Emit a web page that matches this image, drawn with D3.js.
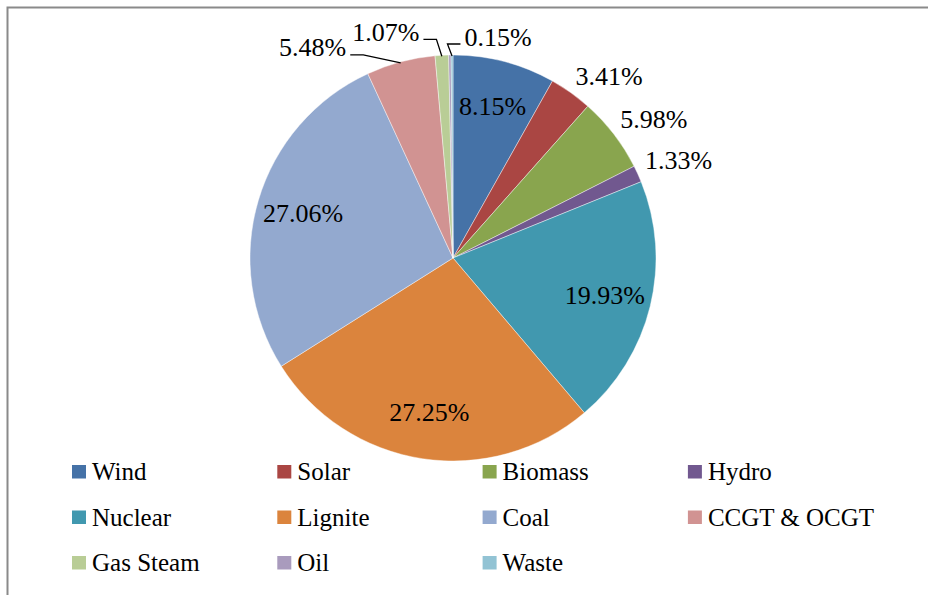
<!DOCTYPE html>
<html>
<head>
<meta charset="utf-8">
<script src="https://cdn.jsdelivr.net/npm/d3@7"></script>
<style>
  html, body { margin: 0; padding: 0; background: #fff; }
  svg { display: block; }
  svg text { font-family: 'Liberation Serif', serif !important; }
</style>
</head>
<body>
<svg id="chart" width="928" height="595"></svg>
<script>
// Share of electricity generation by source (%)
const categories = ["Wind", "Solar", "Biomass", "Hydro", "Nuclear", "Lignite", "Coal",
                    "CCGT & OCGT", "Gas Steam", "Oil", "Waste"];
const shares = [8.15, 3.41, 5.98, 1.33, 19.93, 27.25, 27.06, 5.48, 1.07, 0.19, 0.15];
const sliceColors = ["#4572A7", "#AA4643", "#89A54E", "#71588F", "#4198AF", "#DB843D",
                     "#93A9CF", "#D19392", "#B9CD96", "#A99BBD", "#92C3D4"];
const unlabelled = ["Oil"];

const data = categories.map((name, i) => ({ name, value: shares[i], color: sliceColors[i] }));

const svg = d3.select("#chart");
const W = 928, H = 595;

function styleText(sel, size) {
  return sel
    .style("font-family", "'Liberation Serif', serif", "important")
    .style("font-size", size + "px")
    .attr("fill", "#000");
}

// chart frame (right and bottom edges fall outside the view)
svg.append("rect")
  .attr("x", 7.5).attr("y", 7.5)
  .attr("width", W + 10).attr("height", H + 10)
  .attr("fill", "none").attr("stroke", "#8a8a8a").attr("stroke-width", 2);

const cx = 453, cy = 258, R = 203;
const g = svg.append("g").attr("transform", `translate(${cx},${cy})`);

const pie = d3.pie().value(d => d.value).sort(null);
const arcs = pie(data);
const arc = d3.arc().innerRadius(0).outerRadius(R);

g.selectAll("path.slice")
  .data(arcs)
  .join("path")
  .attr("class", "slice")
  .attr("d", arc)
  .attr("fill", d => d.data.color)
  .attr("stroke", "#ffffff")
  .attr("stroke-width", 0.6)
  .attr("stroke-opacity", 0.7);

// data labels
const fmt = v => d3.format(".2f")(v) + "%";
const labelSize = 26;
const polar = (a, r) => [r * Math.sin(a), -r * Math.cos(a)];

// labels on the crowded small slices sit away from the pie, joined by a leader line
const leaderOffsets = {
  "CCGT & OCGT": [-88, -14],
  "Gas Steam": [-56, -23],
  "Waste": [46, -18]
};

const labels = g.append("g");
arcs.forEach(d => {
  if (unlabelled.includes(d.data.name)) return;
  const mid = (d.startAngle + d.endAngle) / 2;
  const t = styleText(labels.append("text"), labelSize)
    .attr("text-anchor", "middle")
    .text(fmt(d.data.value));
  const w = t.node().getComputedTextLength();
  const h = 20;
  let lx, ly;
  if (d.data.value > 7) {
    [lx, ly] = polar(mid, R * 0.77);
  } else if (leaderOffsets[d.data.name]) {
    const [ex, ey] = polar(mid, R);
    const [ox, oy] = leaderOffsets[d.data.name];
    lx = ex + ox; ly = ey + oy;
    // leader: slice edge -> elbow -> label side
    const side = ox < 0 ? 1 : -1;           // direction from label toward the pie
    const startX = lx + side * (w / 2 + 4);
    const elbowX = startX + side * 13;
    const lineY = ly + 7;
    g.append("path")
      .attr("d", d3.line()([[ex, ey + 1], [elbowX, lineY], [startX, lineY]]))
      .attr("fill", "none")
      .attr("stroke", "#000")
      .attr("stroke-width", 1.3);
  } else {
    const [px, py] = polar(mid, R + 8);
    lx = px + Math.sign(Math.sin(mid)) * w / 2;
    ly = py - Math.sign(Math.cos(mid)) * h / 2;
  }
  t.attr("x", lx).attr("y", ly + labelSize * 0.33);
});

// legend: four columns
const legend = svg.append("g");
const colX = d3.scaleLinear().domain([0, 1]).range([72, 277.3]);
const rowY = d3.scaleLinear().domain([0, 1]).range([480, 525.5]);
data.forEach((d, i) => {
  const col = i % 4, row = Math.floor(i / 4);
  const x = colX(col), y = rowY(row);
  legend.append("rect")
    .attr("x", x).attr("y", y - 15)
    .attr("width", 14).attr("height", 13.5)
    .attr("fill", d.color);
  styleText(legend.append("text"), 25)
    .attr("x", x + 20).attr("y", y)
    .text(d.name);
});
</script>
</body>
</html>
